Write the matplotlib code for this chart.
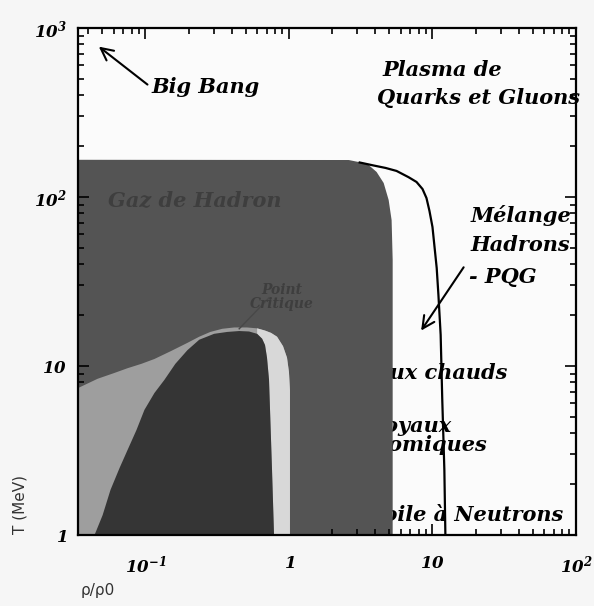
import matplotlib
matplotlib.use("Agg")
import matplotlib.pyplot as plt
from matplotlib.ticker import FixedLocator, FixedFormatter, LogLocator, NullFormatter

plt.rcParams["mathtext.fontset"] = "custom"
plt.rcParams["mathtext.rm"] = "DejaVu Serif:italic:bold"
plt.rcParams["mathtext.it"] = "DejaVu Serif:italic:bold"
plt.rcParams["mathtext.bf"] = "DejaVu Serif:italic:bold"

# Axis ranges (rho/rho0, T in MeV)
RHO_MIN, RHO_MAX = 10 ** -1.47, 100
T_MIN, T_MAX = 1, 1000

x_ticks = [0.1, 1, 10, 100]
x_labels = ["$10^{-1}$", "$1$", "$10$", "$10^{2}$"]
y_ticks = [1, 10, 100, 1000]
y_labels = ["$1$", "$10$", "$10^{2}$", "$10^{3}$"]

# Hadron gas region: top edge then rounded corner down to the bottom
hadron_rho = [RHO_MIN, 2.61, 3.06, 3.59, 4.08, 4.57, 4.95, 5.19, 5.28, 5.28]
hadron_T = [166, 165.5, 161, 154.6, 140.6, 121, 96, 73, 42.4, 1]

# Boundary of the hadron / QGP mixed phase
mix_rho = [3.11, 3.89, 4.72, 5.62, 6.81, 7.74, 8.52, 9.08, 9.53, 10.0, 10.3, 10.7, 11.0, 11.4, 11.7, 12.1, 12.3]
mix_T = [160, 153.6, 148.5, 142.6, 131, 122.7, 111.5, 98.6, 82.6, 66.4, 52, 38, 26.3, 15.3, 6.3, 2.42, 1]

# Hot nuclei envelope (liquid-gas zone)
outer_rho = [RHO_MIN, 0.0464, 0.0609, 0.075, 0.0938, 0.1155, 0.152, 0.196, 0.237, 0.283, 0.343,
             0.415, 0.511, 0.60, 0.681, 0.75, 0.826, 0.909, 0.969, 1.0, 1.016, 1.016]
outer_T = [7.4, 8.4, 9.1, 9.7, 10.3, 11.0, 12.3, 13.7, 14.9, 15.9, 16.6,
           16.9, 16.9, 16.7, 16.2, 15.7, 14.9, 13.1, 11.2, 9.2, 7.2, 1.0]

# Inner dome
dome_rho = [0.0442, 0.0503, 0.0571, 0.0660, 0.075, 0.0866, 0.0984, 0.1155, 0.1356, 0.1616, 0.196,
            0.237, 0.301, 0.371, 0.45, 0.527, 0.60, 0.65, 0.681, 0.703, 0.726, 0.738, 0.762, 0.787]
dome_T = [1.0, 1.31, 1.85, 2.49, 3.18, 4.18, 5.5, 6.92, 8.28, 10.3, 12.4,
          14.3, 15.5, 15.9, 16.1, 16.0, 15.5, 14.5, 13.3, 11.2, 8.3, 5.5, 2.42, 1.0]

fig = plt.figure(figsize=(5.94, 6.06), dpi=100)
fig.patch.set_facecolor("#f6f6f6")
ax = fig.add_axes([0.1313, 0.1172, 0.8384, 0.8366])
ax.set_facecolor("#fbfbfb")
ax.set_xscale("log")
ax.set_yscale("log")

# regions
ax.fill(hadron_rho + [RHO_MIN], hadron_T + [T_MIN], color="#545454", lw=0, zorder=1)
ax.fill(outer_rho + [RHO_MIN], outer_T + [T_MIN], color="#9e9e9e", lw=0, zorder=2)
strip = [(r, t) for r, t in zip(outer_rho, outer_T) if r >= 0.6]
strip += [(r, t) for r, t in zip(dome_rho, dome_T) if r >= 0.6][::-1]
ax.fill([p[0] for p in strip], [p[1] for p in strip], color="#d8d8d8", lw=0, zorder=2)
ax.fill(dome_rho, dome_T, color="#353535", lw=0, zorder=3)

ax.plot(mix_rho, mix_T, color="black", lw=1.6, zorder=4, solid_joinstyle="round")

# critical point marker line
ax.plot([0.45, 0.726], [16.6, 25.3], color="#484848", lw=1.0, zorder=4)

serif = dict(family="DejaVu Serif", style="italic", weight="bold", fontsize=15)
ax.text(0.110, 448, "Big Bang", ha="left", va="center", zorder=5, **serif)
ax.text(4.50, 564, "Plasma de", ha="left", va="center", zorder=5, **serif)
ax.text(4.08, 385, "Quarks et Gluons", ha="left", va="center", zorder=5, **serif)
ax.text(18.4, 78, "Mélange", ha="left", va="center", zorder=5, **serif)
ax.text(18.4, 52, "Hadrons", ha="left", va="center", zorder=5, **serif)
ax.text(18.0, 33.6, "- PQG", ha="left", va="center", zorder=5, **serif)
# these labels run under the dark hadron zone, as in the original
ax.text(1.99, 9.1, "Noyaux chauds", ha="left", va="center", zorder=0.5, **serif)
ax.text(3.43, 4.42, "Noyaux", ha="left", va="center", zorder=0.5, **serif)
ax.text(3.43, 3.41, "atomiques", ha="left", va="center", zorder=0.5, **serif)
ax.text(3.06, 1.31, "Etoile à Neutrons", ha="left", va="center", zorder=0.5, **serif)
ax.text(0.0545, 96, "Gaz de Hadron", ha="left", va="center", color="#3e3e3e", zorder=5, **serif)
small = dict(serif, fontsize=10)
ax.text(0.89, 28.2, "Point", ha="center", va="center", color="#3e3e3e", zorder=5, **small)
ax.text(0.89, 23.3, "Critique", ha="center", va="center", color="#3e3e3e", zorder=5, **small)

ax.annotate("", xy=(0.0457, 794), xytext=(0.107, 452),
            arrowprops=dict(arrowstyle="->", lw=1.5, color="black", mutation_scale=22), zorder=5)
ax.annotate("", xy=(8.13, 15.7), xytext=(16.9, 39.6),
            arrowprops=dict(arrowstyle="->", lw=1.5, color="black", mutation_scale=22), zorder=5)

ax.set_xlim(RHO_MIN, RHO_MAX)
ax.set_ylim(T_MIN, T_MAX)
ax.xaxis.set_major_locator(FixedLocator(x_ticks))
ax.xaxis.set_major_formatter(FixedFormatter(x_labels))
ax.yaxis.set_major_locator(FixedLocator(y_ticks))
ax.yaxis.set_major_formatter(FixedFormatter(y_labels))
ax.xaxis.set_minor_locator(LogLocator(base=10, subs=range(2, 10)))
ax.yaxis.set_minor_locator(LogLocator(base=10, subs=range(2, 10)))
ax.xaxis.set_minor_formatter(NullFormatter())
ax.yaxis.set_minor_formatter(NullFormatter())
ax.tick_params(which="both", direction="in", top=True, right=True, width=1.2, labelsize=12)
ax.tick_params(which="major", length=8)
ax.tick_params(which="minor", length=4)
ax.tick_params(axis="x", which="major", pad=14)
ax.tick_params(axis="y", which="major", pad=8)
for s in ax.spines.values():
    s.set_linewidth(1.6)
    s.set_zorder(6)

fig.text(0.034, 0.167, "T (MeV)", rotation=90, ha="center", va="center", fontsize=11, color="#333333")
fig.text(0.135, 0.026, "ρ/ρ0", ha="left", va="center", fontsize=11, color="#333333")

fig.savefig("out.png", dpi=100, facecolor=fig.get_facecolor())
